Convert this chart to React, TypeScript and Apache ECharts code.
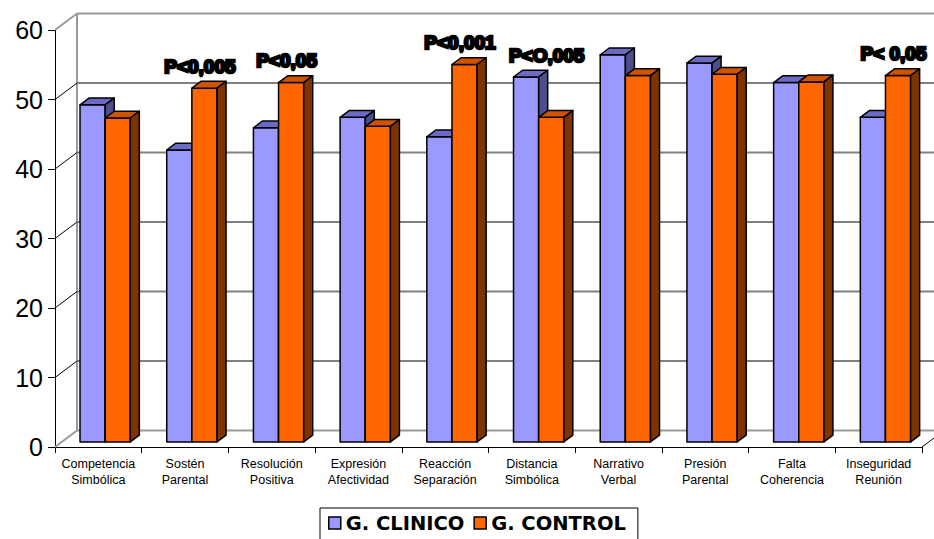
import React, { useEffect, useRef } from "react";
import * as echarts from "echarts";

const categories = [
  "Competencia Simbólica",
  "Sostén Parental",
  "Resolución Positiva",
  "Expresión Afectividad",
  "Reacción Separación",
  "Distancia Simbólica",
  "Narrativo Verbal",
  "Presión Parental",
  "Falta Coherencia",
  "Inseguridad Reunión",
];
const clinico = [48.5, 42.0, 45.2, 46.7, 43.9, 52.5, 55.7, 54.5, 51.7, 46.7];
const control = [46.6, 50.9, 51.7, 45.4, 54.3, 46.7, 52.7, 52.9, 51.8, 52.7];
const yTicks = [0, 10, 20, 30, 40, 50, 60];
const seriesNames = ["G. CLINICO", "G. CONTROL"];
const annotationCategories = [
  "Sostén Parental",
  "Resolución Positiva",
  "Reacción Separación",
  "Distancia Simbólica",
  "Inseguridad Reunión",
];
const annotationTexts = ["P<0,005", "P<0,05", "P<0,001", "P<O,005", "P< 0,05"];

// 3D geometry (pixels / fractions)
const WALL_DX = 22;
const WALL_DY = -16.5;
const F1 = 0.31;
const F2 = 0.72;
const BAR_FRAC = 0.29;
const FONT = '"Liberation Sans", Arial, sans-serif';

const palettes = [
  { front: "#9999FF", top: "#6B6BC6", side: "#4D4D8A" },
  { front: "#FF6600", top: "#D05400", side: "#7F3300" },
];

function barRenderer(side: number) {
  const pal = palettes[side];
  return (params: any, api: any) => {
    const ci = api.value(0);
    const v = api.value(1);
    const base = api.coord([ci, 0]);
    const top = api.coord([ci, v]);
    const band = api.size([1, 0])[0];
    const w = band * BAR_FRAC;
    const fdx = WALL_DX * F1;
    const fdy = WALL_DY * F1;
    const ddx = WALL_DX * (F2 - F1);
    const ddy = WALL_DY * (F2 - F1);
    const cx = base[0] + fdx;
    const l = side === 0 ? cx - w : cx;
    const r = l + w;
    const yb = base[1] + fdy;
    const yt = top[1] + fdy;
    const stroke = { stroke: "#000", lineWidth: 1.5, lineJoin: "round" };
    return {
      type: "group",
      children: [
        {
          type: "rect",
          shape: { x: l, y: yt, width: w, height: yb - yt },
          style: { fill: pal.front, ...stroke },
        },
        {
          type: "polygon",
          shape: {
            points: [
              [l, yt],
              [r, yt],
              [r + ddx, yt + ddy],
              [l + ddx, yt + ddy],
            ],
          },
          style: { fill: pal.top, ...stroke },
        },
        {
          type: "polygon",
          shape: {
            points: [
              [r, yt],
              [r + ddx, yt + ddy],
              [r + ddx, yb + ddy],
              [r, yb],
            ],
          },
          style: { fill: pal.side, ...stroke },
        },
      ],
    };
  };
}

function wallRenderer(params: any, api: any) {
  const v = api.value(1);
  const p = api.coord([0, v]);
  const band = api.size([1, 0])[0];
  const x0 = p[0] - band / 2;
  const x1 = api.coord([categories.length - 1, v])[0] + band / 2;
  const y = p[1];
  const isFirst = v === yTicks[0];
  const isLast = v === yTicks[yTicks.length - 1];
  const isEdge = isFirst || isLast;
  const children: any[] = [
    {
      type: "line",
      shape: { x1: x0, y1: y, x2: x0 + WALL_DX, y2: y + WALL_DY },
      style: { stroke: isEdge ? "#9a9a9a" : "#000", lineWidth: isEdge ? 2 : 1 },
    },
    {
      type: "line",
      shape: { x1: x0 + WALL_DX, y1: y + WALL_DY, x2: x1 + WALL_DX, y2: y + WALL_DY },
      style: { stroke: isEdge ? "#9a9a9a" : "#808080", lineWidth: 2 },
    },
  ];
  if (isFirst) {
    const topY = api.coord([0, yTicks[yTicks.length - 1]])[1];
    children.push({
      type: "line",
      shape: { x1: x0 + WALL_DX, y1: y + WALL_DY, x2: x0 + WALL_DX, y2: topY + WALL_DY },
      style: { stroke: "#9a9a9a", lineWidth: 2 },
    });
    children.push({
      type: "line",
      shape: { x1: x1, y1: y, x2: x1 + WALL_DX, y2: y + WALL_DY },
      style: { stroke: "#000", lineWidth: 1 },
    });
  }
  return { type: "group", children };
}

function annotationRenderer(params: any, api: any) {
  const ci = api.value(0);
  const v = api.value(1);
  const base = api.coord([ci, 0]);
  const top = api.coord([ci, v]);
  const text = annotationTexts[params.dataIndex];
  return {
    type: "text",
    x: base[0] + WALL_DX * F1 + 8,
    y: top[1] + WALL_DY * F2 - 15,
    style: {
      text,
      fill: "#000",
      stroke: "#000",
      lineWidth: 2.6,
      lineJoin: "round",
      fontSize: 19,
      fontWeight: "bold",
      fontFamily: FONT,
      align: "center",
      verticalAlign: "middle",
    },
  };
}

export default function App() {
  const ref = useRef<HTMLDivElement>(null);
  useEffect(() => {
    if (!ref.current) return;
    const chart = echarts.init(ref.current, undefined, { renderer: "svg" });
    const annData = annotationCategories.map((c) => {
      const i = categories.indexOf(c);
      return [i, Math.max(clinico[i], control[i])];
    });
    chart.setOption({
      animation: false,
      backgroundColor: "#fff",
      grid: { left: 55, right: 12, top: 30, bottom: 92 },
      xAxis: {
        type: "category",
        data: categories,
        axisLine: { show: true, lineStyle: { color: "#000", width: 1 } },
        axisTick: { show: true, length: 6, lineStyle: { color: "#000", width: 1 } },
        axisLabel: {
          interval: 0,
          formatter: (s: string) => s.replace(" ", "\n"),
          fontSize: 12.5,
          lineHeight: 16,
          margin: 9,
          color: "#000",
          fontFamily: FONT,
        },
        splitLine: { show: false },
      },
      yAxis: {
        type: "value",
        min: 0,
        max: 60,
        interval: 10,
        axisLine: { show: true, lineStyle: { color: "#000", width: 1 } },
        axisTick: { show: true, length: 7, lineStyle: { color: "#000", width: 1 } },
        axisLabel: { fontSize: 25, margin: 12, color: "#000", fontFamily: FONT },
        splitLine: { show: false },
      },
      legend: {
        left: 320,
        top: 508,
        orient: "horizontal",
        borderColor: "#000",
        borderWidth: 1,
        padding: [5, 12, 20, 8],
        itemGap: 9,
        itemWidth: 12,
        itemHeight: 12,
        icon: "rect",
        textStyle: {
          fontSize: 19.5,
          fontWeight: "bold",
          color: "#000",
          fontFamily: '"DejaVu Sans", sans-serif',
        },
        data: seriesNames.map((n, i) => ({
          name: n,
          icon: "rect",
          itemStyle: { color: palettes[i].front, borderColor: "#000", borderWidth: 1.5 },
        })),
      },
      series: [
        {
          type: "custom",
          name: "wall",
          silent: true,
          clip: false,
          z: 1,
          renderItem: wallRenderer,
          data: yTicks.map((v) => [0, v]),
          encode: { x: 0, y: 1 },
        },
        {
          type: "custom",
          name: seriesNames[0],
          clip: false,
          z: 2,
          itemStyle: { color: palettes[0].front, borderColor: "#000" },
          renderItem: barRenderer(0),
          data: clinico.map((v, i) => [i, v]),
          encode: { x: 0, y: 1 },
        },
        {
          type: "custom",
          name: seriesNames[1],
          clip: false,
          z: 3,
          itemStyle: { color: palettes[1].front, borderColor: "#000" },
          renderItem: barRenderer(1),
          data: control.map((v, i) => [i, v]),
          encode: { x: 0, y: 1 },
        },
        {
          type: "custom",
          name: "annotations",
          silent: true,
          clip: false,
          z: 4,
          renderItem: annotationRenderer,
          data: annData,
          encode: { x: 0, y: 1 },
        },
      ],
    });
    return () => chart.dispose();
  }, []);
  return (
    <div
      ref={ref}
      style={{ position: "fixed", left: 0, top: 0, width: 934, height: 539, background: "#fff" }}
    />
  );
}
